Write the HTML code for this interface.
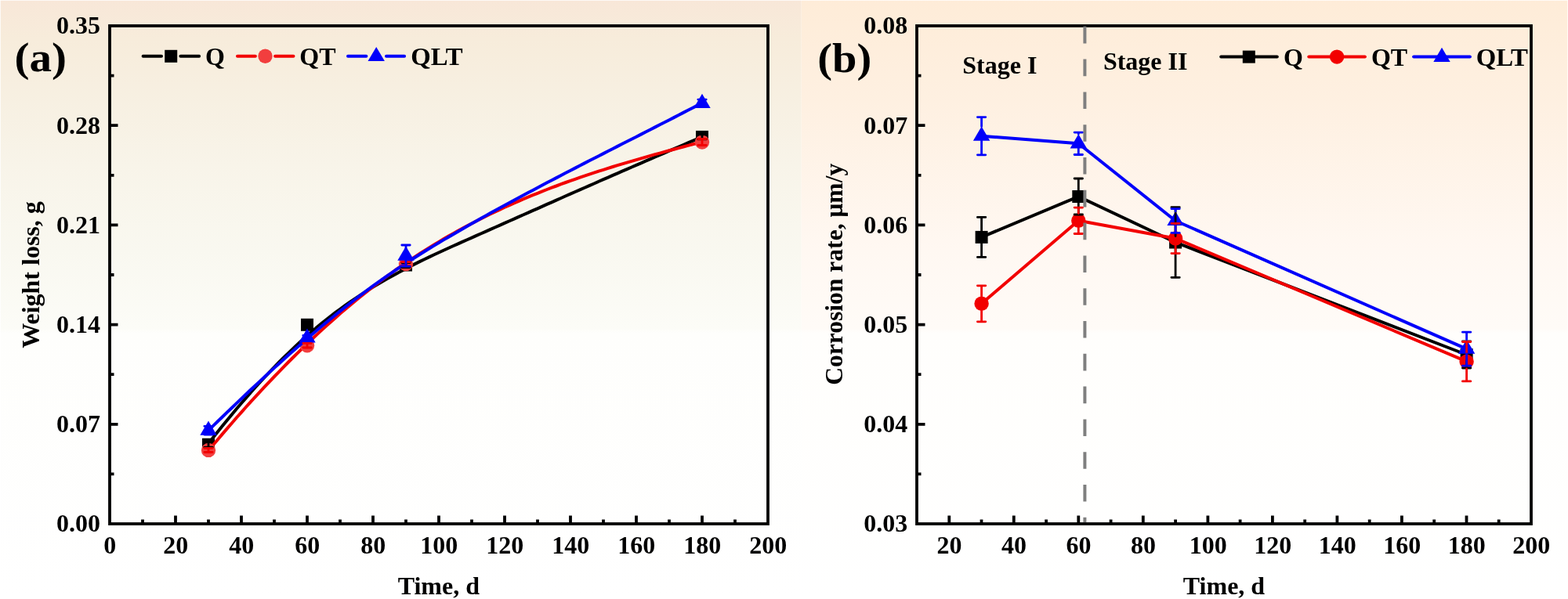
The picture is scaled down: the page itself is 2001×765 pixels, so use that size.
<!DOCTYPE html>
<html lang="en"><head><meta charset="utf-8"><title>Weight loss and corrosion rate versus time</title>
<style>html,body{margin:0;padding:0;background:#fff}body{width:2001px;height:765px;overflow:hidden}svg{display:block}text{font-family:"Liberation Serif", serif;font-weight:bold;fill:#000}</style></head><body>
<svg width="2001" height="765" viewBox="0 0 2001 765">
<defs><linearGradient id="ga" x1="0" y1="0" x2="0" y2="1"><stop offset="0" stop-color="#f8e7d8"/><stop offset="0.065" stop-color="#f7ecdb"/><stop offset="0.17" stop-color="#f7f0e2"/><stop offset="0.2745" stop-color="#f8f4e9"/><stop offset="0.418" stop-color="#f9f8f0"/><stop offset="0.5480" stop-color="#fcfcf7"/><stop offset="0.5560" stop-color="#fefefc"/><stop offset="1" stop-color="#ffffff"/></linearGradient><linearGradient id="gb" x1="0" y1="0" x2="0" y2="1"><stop offset="0" stop-color="#feecd8"/><stop offset="0.17" stop-color="#fef0e1"/><stop offset="0.418" stop-color="#fff8f2"/><stop offset="0.5480" stop-color="#fffbf7"/><stop offset="0.5560" stop-color="#fffefc"/><stop offset="1" stop-color="#ffffff"/></linearGradient></defs>
<rect x="0" y="0" width="1022.6" height="765" fill="url(#ga)"/>
<rect x="1022.6" y="0" width="978.4" height="765" fill="url(#gb)"/>
<path d="M0 0.5H2001M0.5 0V765M2000.5 0V765" stroke="#fff" stroke-opacity="0.75" stroke-width="1" fill="none"/>
<g id="panel-a">
<rect x="140" y="33" width="840" height="636" fill="none" stroke="#000" stroke-width="3.8"/>
<path d="M224 669V658.5M308 669V658.5M392 669V658.5M476 669V658.5M560 669V658.5M644 669V658.5M728 669V658.5M812 669V658.5M896 669V658.5M182 669V663.5M266 669V663.5M350 669V663.5M434 669V663.5M518 669V663.5M602 669V663.5M686 669V663.5M770 669V663.5M854 669V663.5M938 669V663.5M140 541.8H150.5M140 414.6H150.5M140 287.4H150.5M140 160.2H150.5M140 605.4H145.5M140 478.2H145.5M140 351H145.5M140 223.8H145.5M140 96.6H145.5" stroke="#000" stroke-width="3.8" fill="none"/>
<text x="127.9" y="679.4" font-size="32" text-anchor="end">0.00</text>
<text x="127.9" y="552.2" font-size="32" text-anchor="end">0.07</text>
<text x="127.9" y="425" font-size="32" text-anchor="end">0.14</text>
<text x="127.9" y="297.8" font-size="32" text-anchor="end">0.21</text>
<text x="127.9" y="170.6" font-size="32" text-anchor="end">0.28</text>
<text x="127.9" y="43.4" font-size="32" text-anchor="end">0.35</text>
<text x="140.3" y="706.6" font-size="32" text-anchor="middle">0</text>
<text x="224.3" y="706.6" font-size="32" text-anchor="middle">20</text>
<text x="308.3" y="706.6" font-size="32" text-anchor="middle">40</text>
<text x="392.3" y="706.6" font-size="32" text-anchor="middle">60</text>
<text x="476.3" y="706.6" font-size="32" text-anchor="middle">80</text>
<text x="560.3" y="706.6" font-size="32" text-anchor="middle">100</text>
<text x="644.3" y="706.6" font-size="32" text-anchor="middle">120</text>
<text x="728.3" y="706.6" font-size="32" text-anchor="middle">140</text>
<text x="812.3" y="706.6" font-size="32" text-anchor="middle">160</text>
<text x="896.3" y="706.6" font-size="32" text-anchor="middle">180</text>
<text x="980.3" y="706.6" font-size="32" text-anchor="middle">200</text>
<text x="559.8" y="759" font-size="32" text-anchor="middle">Time, d</text>
<text x="50.2" y="351" font-size="32" text-anchor="middle" transform="rotate(-90 50.2 351)">Weight loss, g</text>
<text x="18.4" y="91.4" font-size="52" text-anchor="start" textLength="66.5" lengthAdjust="spacingAndGlyphs">(a)</text>
<path d="M266 566.5L272 558.8L278 551.3L284 543.8L290 536.4L296 529.2L302 522L308 515L314 508.1L320 501.2L326 494.5L332 487.9L338 481.5L344 475.1L350 468.9L356 462.7L362 456.7L368 450.9L374 445.1L380 439.5L386 434L392 428.6L398 423.4L404 418.3L410 413.3L416 408.5L422 403.8L428 399.2L434 394.8L440 390.4L446 386.2L452 382.1L458 378.1L464 374.2L470 370.3L476 366.6L482 363L488 359.5L494 356L500 352.7L506 349.4L512 346.2L518 343L524 339.9L530 336.9L536 333.9L542 331L548 328.1L554 325.3L560 322.5L566 319.7L572 317L578 314.3L584 311.6L590 308.9L596 306.2L602 303.6L608 300.9L614 298.2L620 295.6L626 292.9L632 290.2L638 287.6L644 284.9L650 282.2L656 279.6L662 276.9L668 274.2L674 271.6L680 268.9L686 266.3L692 263.6L698 260.9L704 258.3L710 255.6L716 253L722 250.3L728 247.7L734 245L740 242.4L746 239.7L752 237.1L758 234.5L764 231.8L770 229.2L776 226.6L782 223.9L788 221.3L794 218.7L800 216.1L806 213.5L812 210.9L818 208.3L824 205.7L830 203.1L836 200.5L842 197.9L848 195.3L854 192.7L860 190.1L866 187.6L872 185L878 182.4L884 179.9L890 177.3L896 174.8" stroke="#000000" stroke-width="4.0" fill="none" stroke-linejoin="round"/>
<rect x="258" y="559.7" width="16" height="16" fill="#000000"/>
<rect x="384" y="406.8" width="16" height="16" fill="#000000"/>
<rect x="510" y="330.5" width="16" height="16" fill="#000000"/>
<rect x="888" y="166.9" width="16" height="16" fill="#000000"/>
<path d="M266 575.5L272 568.3L278 561.2L284 554.1L290 547.1L296 540.2L302 533.3L308 526.6L314 519.8L320 513.2L326 506.6L332 500.1L338 493.7L344 487.3L350 481L356 474.8L362 468.6L368 462.5L374 456.5L380 450.6L386 444.7L392 439L398 433.3L404 427.6L410 422.1L416 416.6L422 411.2L428 405.9L434 400.6L440 395.5L446 390.4L452 385.4L458 380.5L464 375.6L470 370.9L476 366.2L482 361.6L488 357.1L494 352.6L500 348.3L506 344L512 339.8L518 335.7L524 331.6L530 327.7L536 323.8L542 319.9L548 316.2L554 312.5L560 308.9L566 305.3L572 301.8L578 298.4L584 295.1L590 291.8L596 288.6L602 285.4L608 282.3L614 279.2L620 276.2L626 273.3L632 270.4L638 267.6L644 264.8L650 262.1L656 259.4L662 256.8L668 254.2L674 251.7L680 249.2L686 246.8L692 244.4L698 242L704 239.7L710 237.5L716 235.2L722 233L728 230.9L734 228.8L740 226.7L746 224.7L752 222.6L758 220.7L764 218.7L770 216.8L776 214.9L782 213L788 211.2L794 209.4L800 207.6L806 205.8L812 204.1L818 202.3L824 200.6L830 198.9L836 197.2L842 195.6L848 193.9L854 192.3L860 190.7L866 189.1L872 187.5L878 185.9L884 184.3L890 182.8L896 181.2" stroke="#f20000" stroke-width="4.0" fill="none" stroke-linejoin="round"/>
<circle cx="266" cy="574.9" r="9.2" fill="#f23e3e"/>
<circle cx="392" cy="441.2" r="9.2" fill="#f23e3e"/>
<circle cx="518" cy="337.1" r="9.2" fill="#f23e3e"/>
<circle cx="896" cy="181.5" r="9.2" fill="#f23e3e"/>
<path d="M266 549.7L272 543.9L278 538L284 532.2L290 526.4L296 520.7L302 514.9L308 509.2L314 503.5L320 497.8L326 492.2L332 486.6L338 481L344 475.4L350 469.9L356 464.5L362 459L368 453.6L374 448.3L380 443L386 437.7L392 432.5L398 427.3L404 422.2L410 417.1L416 412.1L422 407.2L428 402.3L434 397.4L440 392.6L446 387.9L452 383.2L458 378.6L464 374.1L470 369.6L476 365.2L482 360.9L488 356.6L494 352.4L500 348.3L506 344.2L512 340.2L518 336.3L524 332.4L530 328.5L536 324.7L542 321L548 317.3L554 313.6L560 310L566 306.4L572 302.9L578 299.4L584 295.9L590 292.4L596 289L602 285.6L608 282.2L614 278.8L620 275.5L626 272.1L632 268.8L638 265.5L644 262.2L650 259L656 255.7L662 252.5L668 249.3L674 246.1L680 242.9L686 239.7L692 236.5L698 233.3L704 230.2L710 227.1L716 223.9L722 220.8L728 217.7L734 214.6L740 211.5L746 208.4L752 205.3L758 202.2L764 199.2L770 196.1L776 193L782 190L788 186.9L794 183.8L800 180.8L806 177.7L812 174.7L818 171.6L824 168.5L830 165.5L836 162.4L842 159.3L848 156.3L854 153.2L860 150.1L866 147L872 143.9L878 140.8L884 137.7L890 134.6L896 131.5" stroke="#0000fa" stroke-width="4.0" fill="none" stroke-linejoin="round"/>
<path d="M266 537.6L276.7 555.8L255.3 555.8Z" fill="#0000fa"/>
<path d="M392 419.4L402.7 437.6L381.3 437.6Z" fill="#0000fa"/>
<path d="M518 314.5L528.7 332.7L507.3 332.7Z" fill="#0000fa"/>
<path d="M896 119.7L906.7 137.9L885.3 137.9Z" fill="#0000fa"/>
<path d="M260.8 564.2H271.2M260.8 571.2H271.2M266 564.2V567.7M266 567.7V571.2" stroke="#000000" stroke-width="2.8" stroke-linecap="round" fill="none"/>
<path d="M386.8 412.3H397.2M386.8 417.3H397.2M392 412.3V414.8M392 414.8V417.3" stroke="#000000" stroke-width="2.8" stroke-linecap="round" fill="none"/>
<path d="M512.8 335.5H523.2M512.8 341.5H523.2M518 335.5V338.5M518 338.5V341.5" stroke="#000000" stroke-width="2.8" stroke-linecap="round" fill="none"/>
<path d="M890.8 171.9H901.2M890.8 177.9H901.2M896 171.9V174.9M896 174.9V177.9" stroke="#000000" stroke-width="2.8" stroke-linecap="round" fill="none"/>
<path d="M260.8 572.3H271.2M260.8 577.5H271.2M266 572.3V574.9M266 574.9V577.5" stroke="#f20000" stroke-width="2.8" stroke-linecap="round" fill="none"/>
<path d="M386.8 438.4H397.2M386.8 444H397.2M392 438.4V441.2M392 441.2V444" stroke="#f20000" stroke-width="2.8" stroke-linecap="round" fill="none"/>
<path d="M512.8 334.5H523.2M512.8 339.7H523.2M518 334.5V337.1M518 337.1V339.7" stroke="#f20000" stroke-width="2.8" stroke-linecap="round" fill="none"/>
<path d="M890.8 177.5H901.2M890.8 185.5H901.2M896 177.5V181.5M896 181.5V185.5" stroke="#f20000" stroke-width="2.8" stroke-linecap="round" fill="none"/>
<path d="M260.8 544.3H271.2M260.8 555.1H271.2M266 544.3V549.7M266 549.7V555.1" stroke="#0000fa" stroke-width="2.8" stroke-linecap="round" fill="none"/>
<path d="M386.8 428.5H397.2M386.8 434.5H397.2M392 428.5V431.5M392 431.5V434.5" stroke="#0000fa" stroke-width="2.8" stroke-linecap="round" fill="none"/>
<path d="M512.8 313H523.2M512.8 340.2H523.2M518 313V326.6M518 326.6V340.2" stroke="#0000fa" stroke-width="2.8" stroke-linecap="round" fill="none"/>
<path d="M890.8 127.1H901.2M890.8 136.5H901.2M896 127.1V131.8M896 131.8V136.5" stroke="#0000fa" stroke-width="2.8" stroke-linecap="round" fill="none"/>
<path d="M182.6 71.8H206M230.4 71.8H254.1" stroke="#000000" stroke-width="4.0" stroke-linecap="round" fill="none"/>
<rect x="210.2" y="63.8" width="16" height="16" fill="#000000"/>
<text x="261.9" y="82.8" font-size="32" text-anchor="start">Q</text>
<path d="M303 71.8H325.9M351.1 71.8H374.5" stroke="#f20000" stroke-width="4.0" stroke-linecap="round" fill="none"/>
<circle cx="338.5" cy="71.8" r="9.2" fill="#f23e3e"/>
<text x="382.3" y="82.8" font-size="32" text-anchor="start">QT</text>
<path d="M444 71.8H467.4M493 71.8H516.1" stroke="#0000fa" stroke-width="4.0" stroke-linecap="round" fill="none"/>
<path d="M480.2 59.9L490.9 78.1L469.5 78.1Z" fill="#0000fa"/>
<text x="524.3" y="82.8" font-size="32" text-anchor="start" textLength="66.2" lengthAdjust="spacingAndGlyphs">QLT</text>
</g>
<g id="panel-b">
<rect x="1170" y="33" width="784" height="636" fill="none" stroke="#000" stroke-width="3.8"/>
<path d="M1211.3 669V658.5M1293.8 669V658.5M1376.3 669V658.5M1458.8 669V658.5M1541.4 669V658.5M1623.9 669V658.5M1706.4 669V658.5M1788.9 669V658.5M1871.5 669V658.5M1252.5 669V663.5M1335.1 669V663.5M1417.6 669V663.5M1500.1 669V663.5M1582.6 669V663.5M1665.2 669V663.5M1747.7 669V663.5M1830.2 669V663.5M1912.7 669V663.5M1170 541.8H1180.5M1170 414.6H1180.5M1170 287.4H1180.5M1170 160.2H1180.5M1170 605.4H1175.5M1170 478.2H1175.5M1170 351H1175.5M1170 223.8H1175.5M1170 96.6H1175.5" stroke="#000" stroke-width="3.8" fill="none"/>
<text x="1158.2" y="679.4" font-size="32" text-anchor="end">0.03</text>
<text x="1158.2" y="552.2" font-size="32" text-anchor="end">0.04</text>
<text x="1158.2" y="425" font-size="32" text-anchor="end">0.05</text>
<text x="1158.2" y="297.8" font-size="32" text-anchor="end">0.06</text>
<text x="1158.2" y="170.6" font-size="32" text-anchor="end">0.07</text>
<text x="1158.2" y="43.4" font-size="32" text-anchor="end">0.08</text>
<text x="1211.6" y="706.6" font-size="32" text-anchor="middle">20</text>
<text x="1294.1" y="706.6" font-size="32" text-anchor="middle">40</text>
<text x="1376.6" y="706.6" font-size="32" text-anchor="middle">60</text>
<text x="1459.1" y="706.6" font-size="32" text-anchor="middle">80</text>
<text x="1541.7" y="706.6" font-size="32" text-anchor="middle">100</text>
<text x="1624.2" y="706.6" font-size="32" text-anchor="middle">120</text>
<text x="1706.7" y="706.6" font-size="32" text-anchor="middle">140</text>
<text x="1789.2" y="706.6" font-size="32" text-anchor="middle">160</text>
<text x="1871.8" y="706.6" font-size="32" text-anchor="middle">180</text>
<text x="1954.3" y="706.6" font-size="32" text-anchor="middle">200</text>
<text x="1562" y="759" font-size="32" text-anchor="middle">Time, d</text>
<text x="1075.2" y="350.3" font-size="32" text-anchor="middle" textLength="283" lengthAdjust="spacingAndGlyphs" transform="rotate(-90 1075.2 350.3)">Corrosion rate, μm/y</text>
<text x="1043.2" y="91.6" font-size="52" text-anchor="start" textLength="69" lengthAdjust="spacingAndGlyphs">(b)</text>
<text x="1228.3" y="94.3" font-size="32" text-anchor="start">Stage I</text>
<text x="1407.9" y="89.2" font-size="32" text-anchor="start">Stage II</text>
<path d="M1252.6 302.9L1376.3 251L1500.1 309.5L1871.6 453" stroke="#000000" stroke-width="4.0" fill="none" stroke-linejoin="round"/>
<rect x="1244.6" y="294.9" width="16" height="16" fill="#000000"/>
<rect x="1368.3" y="243" width="16" height="16" fill="#000000"/>
<rect x="1492.1" y="301.5" width="16" height="16" fill="#000000"/>
<rect x="1863.6" y="445" width="16" height="16" fill="#000000"/>
<path d="M1252.6 387.8L1376.3 281.8L1500.1 304.5L1871.6 461.7" stroke="#f20000" stroke-width="4.0" fill="none" stroke-linejoin="round"/>
<circle cx="1252.6" cy="387.8" r="9.2" fill="#f20000"/>
<circle cx="1376.3" cy="281.8" r="9.2" fill="#f20000"/>
<circle cx="1500.1" cy="304.5" r="9.2" fill="#f20000"/>
<circle cx="1871.6" cy="461.7" r="9.2" fill="#f20000"/>
<path d="M1252.6 173.7L1376.3 183.3L1500.1 282L1871.6 445.7" stroke="#0000fa" stroke-width="4.0" fill="none" stroke-linejoin="round"/>
<path d="M1252.6 161.6L1263.3 179.8L1241.9 179.8Z" fill="#0000fa"/>
<path d="M1376.3 171.2L1387 189.4L1365.6 189.4Z" fill="#0000fa"/>
<path d="M1500.1 269.9L1510.8 288.1L1489.4 288.1Z" fill="#0000fa"/>
<path d="M1871.6 433.6L1882.3 451.8L1860.9 451.8Z" fill="#0000fa"/>
<path d="M1247.4 277.4H1257.8M1247.4 328.4H1257.8M1252.6 277.4V294.9M1252.6 310.9V328.4" stroke="#000000" stroke-width="2.8" stroke-linecap="round" fill="none"/>
<path d="M1371.1 228H1381.5M1371.1 274H1381.5M1376.3 228V243M1376.3 259V274" stroke="#000000" stroke-width="2.8" stroke-linecap="round" fill="none"/>
<path d="M1494.9 264.7H1505.3M1494.9 354.3H1505.3M1500.1 264.7V301.5M1500.1 317.5V354.3" stroke="#000000" stroke-width="2.8" stroke-linecap="round" fill="none"/>
<path d="M1866.4 436H1876.8M1866.4 470H1876.8M1871.6 436V445M1871.6 461V470" stroke="#000000" stroke-width="2.8" stroke-linecap="round" fill="none"/>
<path d="M1247.4 364.8H1257.8M1247.4 410.8H1257.8M1252.6 364.8V378.6M1252.6 397V410.8" stroke="#f20000" stroke-width="2.8" stroke-linecap="round" fill="none"/>
<path d="M1371.1 265.1H1381.5M1371.1 298.5H1381.5M1376.3 265.1V272.6M1376.3 291V298.5" stroke="#f20000" stroke-width="2.8" stroke-linecap="round" fill="none"/>
<path d="M1494.9 285.4H1505.3M1494.9 323.6H1505.3M1500.1 285.4V295.3M1500.1 313.7V323.6" stroke="#f20000" stroke-width="2.8" stroke-linecap="round" fill="none"/>
<path d="M1866.4 436.5H1876.8M1866.4 486.9H1876.8M1871.6 436.5V452.5M1871.6 470.9V486.9" stroke="#f20000" stroke-width="2.8" stroke-linecap="round" fill="none"/>
<path d="M1247.4 149.6H1257.8M1247.4 197.8H1257.8M1252.6 149.6V161.6M1252.6 179.8V197.8" stroke="#0000fa" stroke-width="2.8" stroke-linecap="round" fill="none"/>
<path d="M1371.1 169.1H1381.5M1371.1 197.5H1381.5M1376.3 169.1V171.2M1376.3 189.4V197.5" stroke="#0000fa" stroke-width="2.8" stroke-linecap="round" fill="none"/>
<path d="M1494.9 266.6H1505.3M1494.9 297.4H1505.3M1500.1 266.6V269.9M1500.1 288.1V297.4" stroke="#0000fa" stroke-width="2.8" stroke-linecap="round" fill="none"/>
<path d="M1866.4 424.2H1876.8M1866.4 467.2H1876.8M1871.6 424.2V433.6M1871.6 451.8V467.2" stroke="#0000fa" stroke-width="2.8" stroke-linecap="round" fill="none"/>
<path d="M1384.4 33.8V667" stroke="#7f7f7f" stroke-width="4.0" stroke-dasharray="21.6 20.2" fill="none"/>
<path d="M1558.2 72.6H1629.8" stroke="#000000" stroke-width="4.0" stroke-linecap="round" fill="none"/>
<rect x="1585.8" y="64.6" width="16" height="16" fill="#000000"/>
<text x="1638.1" y="83.6" font-size="32" text-anchor="start">Q</text>
<path d="M1670.3 72.6H1741.9" stroke="#f20000" stroke-width="4.0" stroke-linecap="round" fill="none"/>
<circle cx="1706.1" cy="72.6" r="9.2" fill="#f20000"/>
<text x="1749.9" y="83.6" font-size="32" text-anchor="start">QT</text>
<path d="M1804.1 72.6H1875.9" stroke="#0000fa" stroke-width="4.0" stroke-linecap="round" fill="none"/>
<path d="M1840 60.7L1850.7 78.9L1829.3 78.9Z" fill="#0000fa"/>
<text x="1883.7" y="83.6" font-size="32" text-anchor="start" textLength="66.2" lengthAdjust="spacingAndGlyphs">QLT</text>
</g>
</svg></body></html>
